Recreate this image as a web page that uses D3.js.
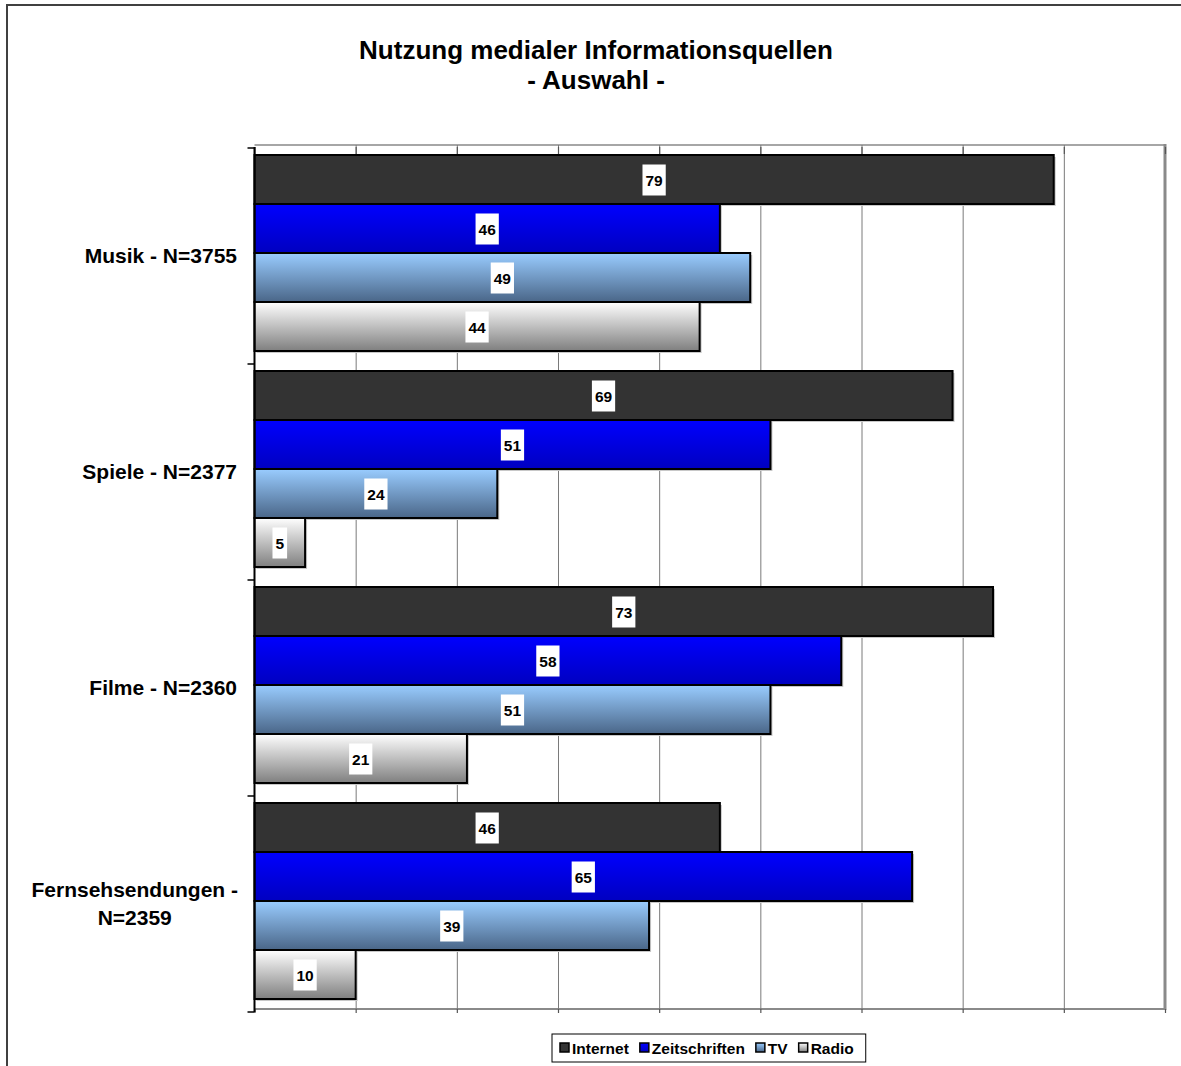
<!DOCTYPE html>
<html>
<head>
<meta charset="utf-8">
<script src="https://cdn.jsdelivr.net/npm/d3@7"></script>
<style>
  html, body { margin: 0; padding: 0; background: #fff; }
  svg { display: block; font-family: "Liberation Sans", Arial, sans-serif; }
</style>
</head>
<body>
<svg id="chart" width="1181" height="1066"></svg>
<script>
// ---------- data ----------
const titleLines = ["Nutzung medialer Informationsquellen", "- Auswahl -"];
const categories = ["Musik - N=3755", "Spiele - N=2377", "Filme - N=2360", "Fernsehsendungen - N=2359"];
const categoryLines = [["Musik - N=3755"], ["Spiele - N=2377"], ["Filme - N=2360"], ["Fernsehsendungen -", "N=2359"]];
const seriesNames = ["Internet", "Zeitschriften", "TV", "Radio"];
const internet = [79, 69, 73, 46];
const zeitschriften = [46, 51, 58, 65];
const tv = [49, 24, 51, 39];
const radio = [44, 5, 21, 10];
const valueTicks = [0, 10, 20, 30, 40, 50, 60, 70, 80, 90];

const seriesValues = [internet, zeitschriften, tv, radio];

// ---------- styles ----------
const gradients = [
  { id: "g0", top: "#333333", bottom: "#333333" },
  { id: "g1", top: "#0000ff", bottom: "#0000c0" },
  { id: "g2", top: "#99ccff", bottom: "#4a6688" },
  { id: "g3", top: "#ffffff", bottom: "#7f7f7f" }
];

const svg = d3.select("#chart");
const defs = svg.append("defs");
gradients.forEach(g => {
  const lg = defs.append("linearGradient").attr("id", g.id)
    .attr("x1", 0).attr("y1", 0).attr("x2", 0).attr("y2", 1);
  lg.append("stop").attr("offset", "0%").attr("stop-color", g.top);
  lg.append("stop").attr("offset", "100%").attr("stop-color", g.bottom);
});

// outer chart border
svg.append("rect").attr("x", 7).attr("y", 5).attr("width", 1300).attr("height", 1200)
  .attr("fill", "none").attr("stroke", "#404040").attr("stroke-width", 2);

// title
const title = svg.append("text").attr("text-anchor", "middle")
  .attr("font-weight", "bold").attr("font-size", 26).attr("fill", "#000");
titleLines.forEach((t, i) => {
  title.append("tspan").attr("x", 596).attr("y", 59 + i * 30).text(t);
});

// ---------- scales ----------
const plotLeft = 254.5, plotRight = 1165, plotTop = 145, plotBottom = 1009;
const x = d3.scaleLinear().domain([0, 90]).range([plotLeft, plotRight]);
const y = d3.scaleBand().domain(categories).range([plotTop, plotBottom]).padding(0);
const yInner = d3.scaleBand().domain(seriesNames).range([10, y.bandwidth() - 10]).padding(0);

// plot frame
svg.append("line").attr("x1", plotLeft).attr("x2", plotRight).attr("y1", plotTop).attr("y2", plotTop)
  .attr("stroke", "#a6a6a6").attr("stroke-width", 2);
svg.append("line").attr("x1", plotLeft).attr("x2", plotRight).attr("y1", plotBottom).attr("y2", plotBottom)
  .attr("stroke", "#8a8a8a").attr("stroke-width", 2);
svg.append("line").attr("x1", plotRight).attr("x2", plotRight).attr("y1", plotTop - 1).attr("y2", plotBottom + 1)
  .attr("stroke", "#8a8a8a").attr("stroke-width", 3);

// gridlines via axis
const grid = svg.append("g").attr("transform", `translate(0,${plotBottom})`)
  .call(d3.axisBottom(x).tickValues(valueTicks.slice(1, -1)).tickSize(-(plotBottom - plotTop)).tickFormat(""));
grid.select(".domain").remove();
grid.selectAll(".tick line").attr("stroke", "#7a7a7a").attr("stroke-width", 1);

// small tick marks at top and bottom
const ticksTop = svg.append("g").attr("transform", `translate(0,${plotTop + 2})`)
  .call(d3.axisBottom(x).tickValues(valueTicks).tickSize(7).tickFormat(""));
ticksTop.select(".domain").remove();
ticksTop.selectAll(".tick line").attr("stroke", "#555").attr("stroke-width", 1.2);
const ticksBottom = svg.append("g").attr("transform", `translate(0,${plotBottom})`)
  .call(d3.axisBottom(x).tickValues(valueTicks).tickSize(4).tickFormat(""));
ticksBottom.select(".domain").remove();
ticksBottom.selectAll(".tick line").attr("stroke", "#555").attr("stroke-width", 1.2);

// bars
const groups = svg.append("g").selectAll("g.cat").data(categories).join("g")
  .attr("class", "cat").attr("transform", d => `translate(0,${y(d)})`);

groups.each(function (cat, ci) {
  const g = d3.select(this);
  const rows = seriesNames.map((s, si) => ({ s, si, v: seriesValues[si][ci] }));
  // shadows
  g.selectAll("rect.shadow").data(rows).join("rect").attr("class", "shadow")
    .attr("x", x(0) + 2).attr("y", d => yInner(d.s) + 2)
    .attr("width", d => x(d.v) - x(0)).attr("height", yInner.bandwidth())
    .attr("fill", "#c8c8c8");
  g.selectAll("rect.bar").data(rows).join("rect").attr("class", "bar")
    .attr("x", x(0)).attr("y", d => yInner(d.s))
    .attr("width", d => x(d.v) - x(0)).attr("height", yInner.bandwidth())
    .attr("fill", d => `url(#${gradients[d.si].id})`)
    .attr("stroke", "#000").attr("stroke-width", 2);
  // labels
  const lab = g.selectAll("g.lab").data(rows).join("g").attr("class", "lab")
    .attr("transform", d => `translate(${(x(0) + x(d.v)) / 2},${yInner(d.s) + yInner.bandwidth() / 2 + 1})`);
  lab.append("text").attr("text-anchor", "middle").attr("dy", "0.36em")
    .attr("font-weight", "bold").attr("font-size", 15.5).attr("fill", "#000")
    .text(d => d.v);
  lab.each(function () {
    const t = d3.select(this).select("text");
    const w = t.node().getComputedTextLength();
    d3.select(this).insert("rect", "text").attr("x", -w / 2 - 3).attr("y", -16)
      .attr("width", w + 6).attr("height", 31).attr("fill", "#fff");
  });
});

// category axis
svg.append("line").attr("x1", plotLeft).attr("x2", plotLeft).attr("y1", plotTop + 2).attr("y2", plotBottom + 3)
  .attr("stroke", "#000").attr("stroke-width", 2);
const catTicks = categories.map(c => y(c)).concat([plotBottom]);
svg.append("g").selectAll("line").data(catTicks).join("line")
  .attr("x1", plotLeft - 7).attr("x2", plotLeft).attr("y1", d => d + 3).attr("y2", d => d + 3)
  .attr("stroke", "#000").attr("stroke-width", 1.5);

// category labels
categories.forEach((c, i) => {
  const lines = categoryLines[i];
  const cy = y(c) + y.bandwidth() / 2 + 3;
  const t = svg.append("text").attr("font-weight", "bold").attr("font-size", 21).attr("fill", "#000");
  const lh = 28;
  lines.forEach((ln, li) => {
    t.append("tspan").attr("y", cy + (li - (lines.length - 1) / 2) * lh).attr("dy", "0.35em").text(ln);
  });
  if (lines.length === 1) {
    t.attr("text-anchor", "end").selectAll("tspan").attr("x", 237);
  } else {
    const widths = [];
    t.selectAll("tspan").each(function () { widths.push(this.getComputedTextLength()); });
    const maxW = d3.max(widths);
    t.attr("text-anchor", "middle").selectAll("tspan").attr("x", 238 - maxW / 2);
  }
});

// legend
const legend = svg.append("g");
const legBox = legend.append("rect").attr("x", 552).attr("y", 1034).attr("height", 28)
  .attr("fill", "#fff").attr("stroke", "#000").attr("stroke-width", 1);
let lx = 560;
seriesNames.forEach((s, i) => {
  legend.append("rect").attr("x", lx).attr("y", 1043).attr("width", 9).attr("height", 9)
    .attr("fill", `url(#${gradients[i].id})`).attr("stroke", "#000").attr("stroke-width", 1.5);
  const t = legend.append("text").attr("x", lx + 12).attr("y", 1054)
    .attr("font-weight", "bold").attr("font-size", 15.5).attr("fill", "#000").text(s);
  const w = t.node().getComputedTextLength();
  lx = lx + 12 + w + 11;
});
legBox.attr("width", lx - 552 + 1);
</script>
</body>
</html>
